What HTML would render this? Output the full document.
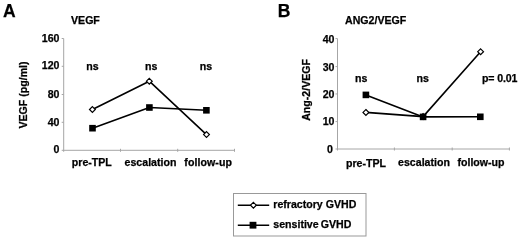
<!DOCTYPE html>
<html><head><meta charset="utf-8"><title>Figure</title>
<style>
html,body{margin:0;padding:0;background:#fff;}
body{width:520px;height:241px;overflow:hidden;}
svg{display:block;}
text{font-family:"Liberation Sans",Arial,Helvetica,sans-serif;font-weight:bold;fill:#000;stroke:#000;stroke-width:0.25px;}
.ax{stroke:#a6a6a6;stroke-width:1;fill:none;}
.ln{stroke:#000;stroke-width:1.6;fill:none;stroke-linejoin:round;}
.t{font-size:10.6px;}
.op{fill:#fff;stroke:#000;stroke-width:1.2;}
.sq{fill:#000;}
</style></head>
<body>
<svg width="520" height="241" viewBox="0 0 520 241">
<rect width="520" height="241" fill="#fff"/>
<!-- Panel A -->
<text x="3" y="17" style="font-size:17.500px">A</text>
<text x="71" y="24" class="t">VEGF</text>
<path class="ax" d="M63.7 38.5V151.8M61.7 150.3H234.5M61.7 38.5H63.7M61.7 66.3H63.7M61.7 94.5H63.7M61.7 122.3H63.7M120.5 148.8V151.8M177.7 148.8V151.8M234.5 148.8V151.8"/>
<g class="t" text-anchor="end">
<text x="59.5" y="41.600">160</text><text x="59.5" y="69.400">120</text><text x="59.5" y="98">80</text><text x="59.5" y="125.600">40</text><text x="59.5" y="152.700">0</text>
</g>
<text class="t" transform="translate(27,95) rotate(-90)" text-anchor="middle">VEGF (pg/ml)</text>
<g class="t" text-anchor="middle">
<text x="92.5" y="70">ns</text><text x="151.200" y="70">ns</text><text x="205.900" y="70">ns</text>
<text x="91.800" y="166">pre-TPL</text><text x="150.500" y="166">escalation</text><text x="208.200" y="166" style="letter-spacing:0.08px">follow-up</text>
</g>
<polyline class="ln" points="92.4,109.5 149.3,81.2 206.5,134.6"/>
<polyline class="ln" points="92.5,128.2 149.4,107.5 206.4,110.3"/>
<g class="op"><path d="M92.4 106.6L95.3 109.5L92.4 112.4L89.5 109.5Z"/><path d="M149.3 78.3L152.2 81.2L149.3 84.1L146.4 81.2Z"/><path d="M206.5 131.7L209.4 134.6L206.5 137.5L203.6 134.6Z"/></g>
<g class="sq"><rect x="89.20" y="124.90" width="6.6" height="6.6"/><rect x="146.10" y="104.20" width="6.6" height="6.6"/><rect x="203.10" y="107.00" width="6.6" height="6.6"/></g>
<!-- Panel B -->
<text x="277.800" y="17" style="font-size:17.500px">B</text>
<text x="345" y="24" class="t">ANG2/VEGF</text>
<path class="ax" d="M337.5 38.6V150.5M335.5 149.0H509.4M335.5 38.6H337.5M335.5 66.6H337.5M335.5 93.95H337.5M335.5 121.6H337.5M394.4 147.5V150.5M452.2 147.5V150.5M509.4 147.5V150.5"/>
<g class="t" text-anchor="end">
<text x="334.500" y="42.900">40</text><text x="334.500" y="70.900">30</text><text x="334.500" y="97.600">20</text><text x="334.500" y="125.400">10</text><text x="332.800" y="152.600">0</text>
</g>
<text class="t" transform="translate(309.500,89.900) rotate(-90)" text-anchor="middle">Ang-2/VEGF</text>
<g class="t" text-anchor="middle">
<text x="361.300" y="82">ns</text><text x="422.600" y="82">ns</text><text x="482" y="82" text-anchor="start" style="letter-spacing:-0.15px">p= 0.01</text>
<text x="366" y="166.800">pre-TPL</text><text x="424" y="166">escalation</text><text x="481" y="166">follow-up</text>
</g>
<polyline class="ln" points="365.9,112.4 423.1,116.6 480.6,51.7"/>
<polyline class="ln" points="365.9,94.9 423.1,116.9 480.3,116.8"/>
<g class="op"><path d="M365.9 109.5L368.8 112.4L365.9 115.3L363.0 112.4Z"/><path d="M423.1 113.7L426.0 116.6L423.1 119.5L420.2 116.6Z"/><path d="M480.6 48.8L483.5 51.7L480.6 54.6L477.7 51.7Z"/></g>
<g class="sq"><rect x="362.60" y="91.60" width="6.6" height="6.6"/><rect x="419.80" y="113.60" width="6.6" height="6.6"/><rect x="477.00" y="113.50" width="6.6" height="6.6"/></g>
<!-- Legend -->
<rect x="233.500" y="193.500" width="132.500" height="42.500" fill="#fff" stroke="#999" stroke-width="1"/>
<path class="ln" d="M237.800 205.200H269.200M237.800 225.200H269.200"/>
<g class="op"><path d="M253.4 202.3L256.3 205.2L253.4 208.1L250.5 205.2Z"/></g>
<g class="sq"><rect x="249.60" y="221.80" width="6.8" height="6.8"/></g>
<text x="273.300" y="207.600" class="t">refractory GVHD</text>
<text x="273.300" y="227.600" class="t">sensitive <tspan dx="-0.9">GVHD</tspan></text>
</svg>
</body></html>
